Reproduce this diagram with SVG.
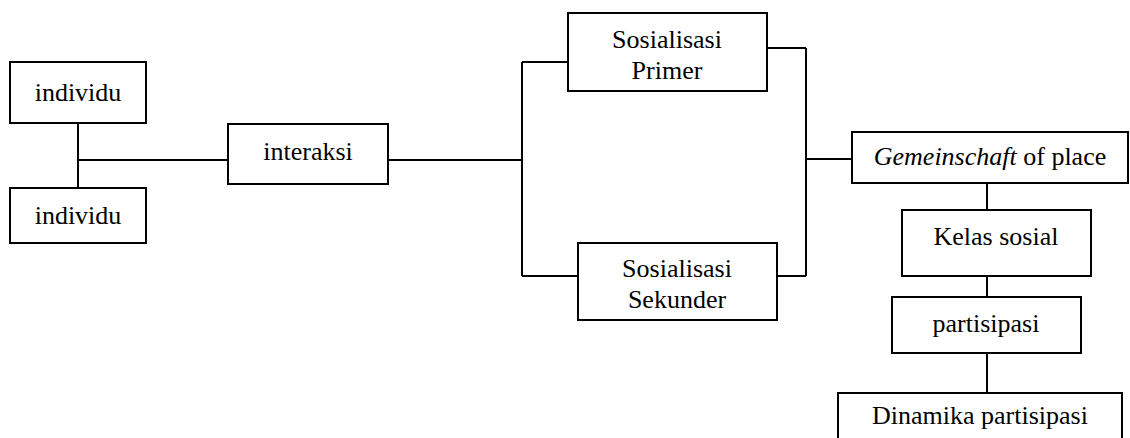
<svg xmlns="http://www.w3.org/2000/svg" width="1130" height="438" viewBox="0 0 1130 438" font-family="Liberation Serif, Times New Roman, DejaVu Serif, serif">
<style>
rect{fill:#fff;stroke:#000;stroke-width:2}
.c path{fill:none;stroke:#000;stroke-width:2}
text{font-size:26px;fill:#000;text-anchor:middle}
</style>
<rect x="0" y="0" width="1130" height="438" style="stroke:none"/>
<g class="c">
<path d="M78 123V188M78 160H228"/>
<path d="M388 160H522M522 62V276M522 62H568M522 276H578"/>
<path d="M767 48H806M777 276H806M806 48V276M806 159H852"/>
<path d="M987 183V210M987 276V297M987 353V393"/>
</g>
<g id="individu1"><rect x="10" y="62" width="136" height="61"/><text x="78" y="101">individu</text></g>
<g id="individu2"><rect x="10" y="188" width="136" height="55"/><text x="78" y="224">individu</text></g>
<g id="interaksi"><rect x="228" y="124" width="160" height="60"/><text x="308" y="160">interaksi</text></g>
<g id="primer"><rect x="568" y="13" width="199" height="78"/><text x="667" y="48">Sosialisasi</text><text x="667" y="79">Primer</text></g>
<g id="sekunder"><rect x="578" y="243" width="199" height="77"/><text x="677" y="277">Sosialisasi</text><text x="677" y="308">Sekunder</text></g>
<g id="gemeinschaft"><rect x="852" y="132" width="276" height="51"/><text x="990" y="165"><tspan font-style="italic">Gemeinschaft</tspan> of place</text></g>
<g id="kelas"><rect x="902" y="210" width="189" height="66"/><text x="996" y="245">Kelas sosial</text></g>
<g id="partisipasi"><rect x="892" y="297" width="189" height="56"/><text x="986" y="332">partisipasi</text></g>
<g id="dinamika"><rect x="838" y="393" width="284" height="60"/><text x="980" y="424">Dinamika partisipasi</text></g>
</svg>
